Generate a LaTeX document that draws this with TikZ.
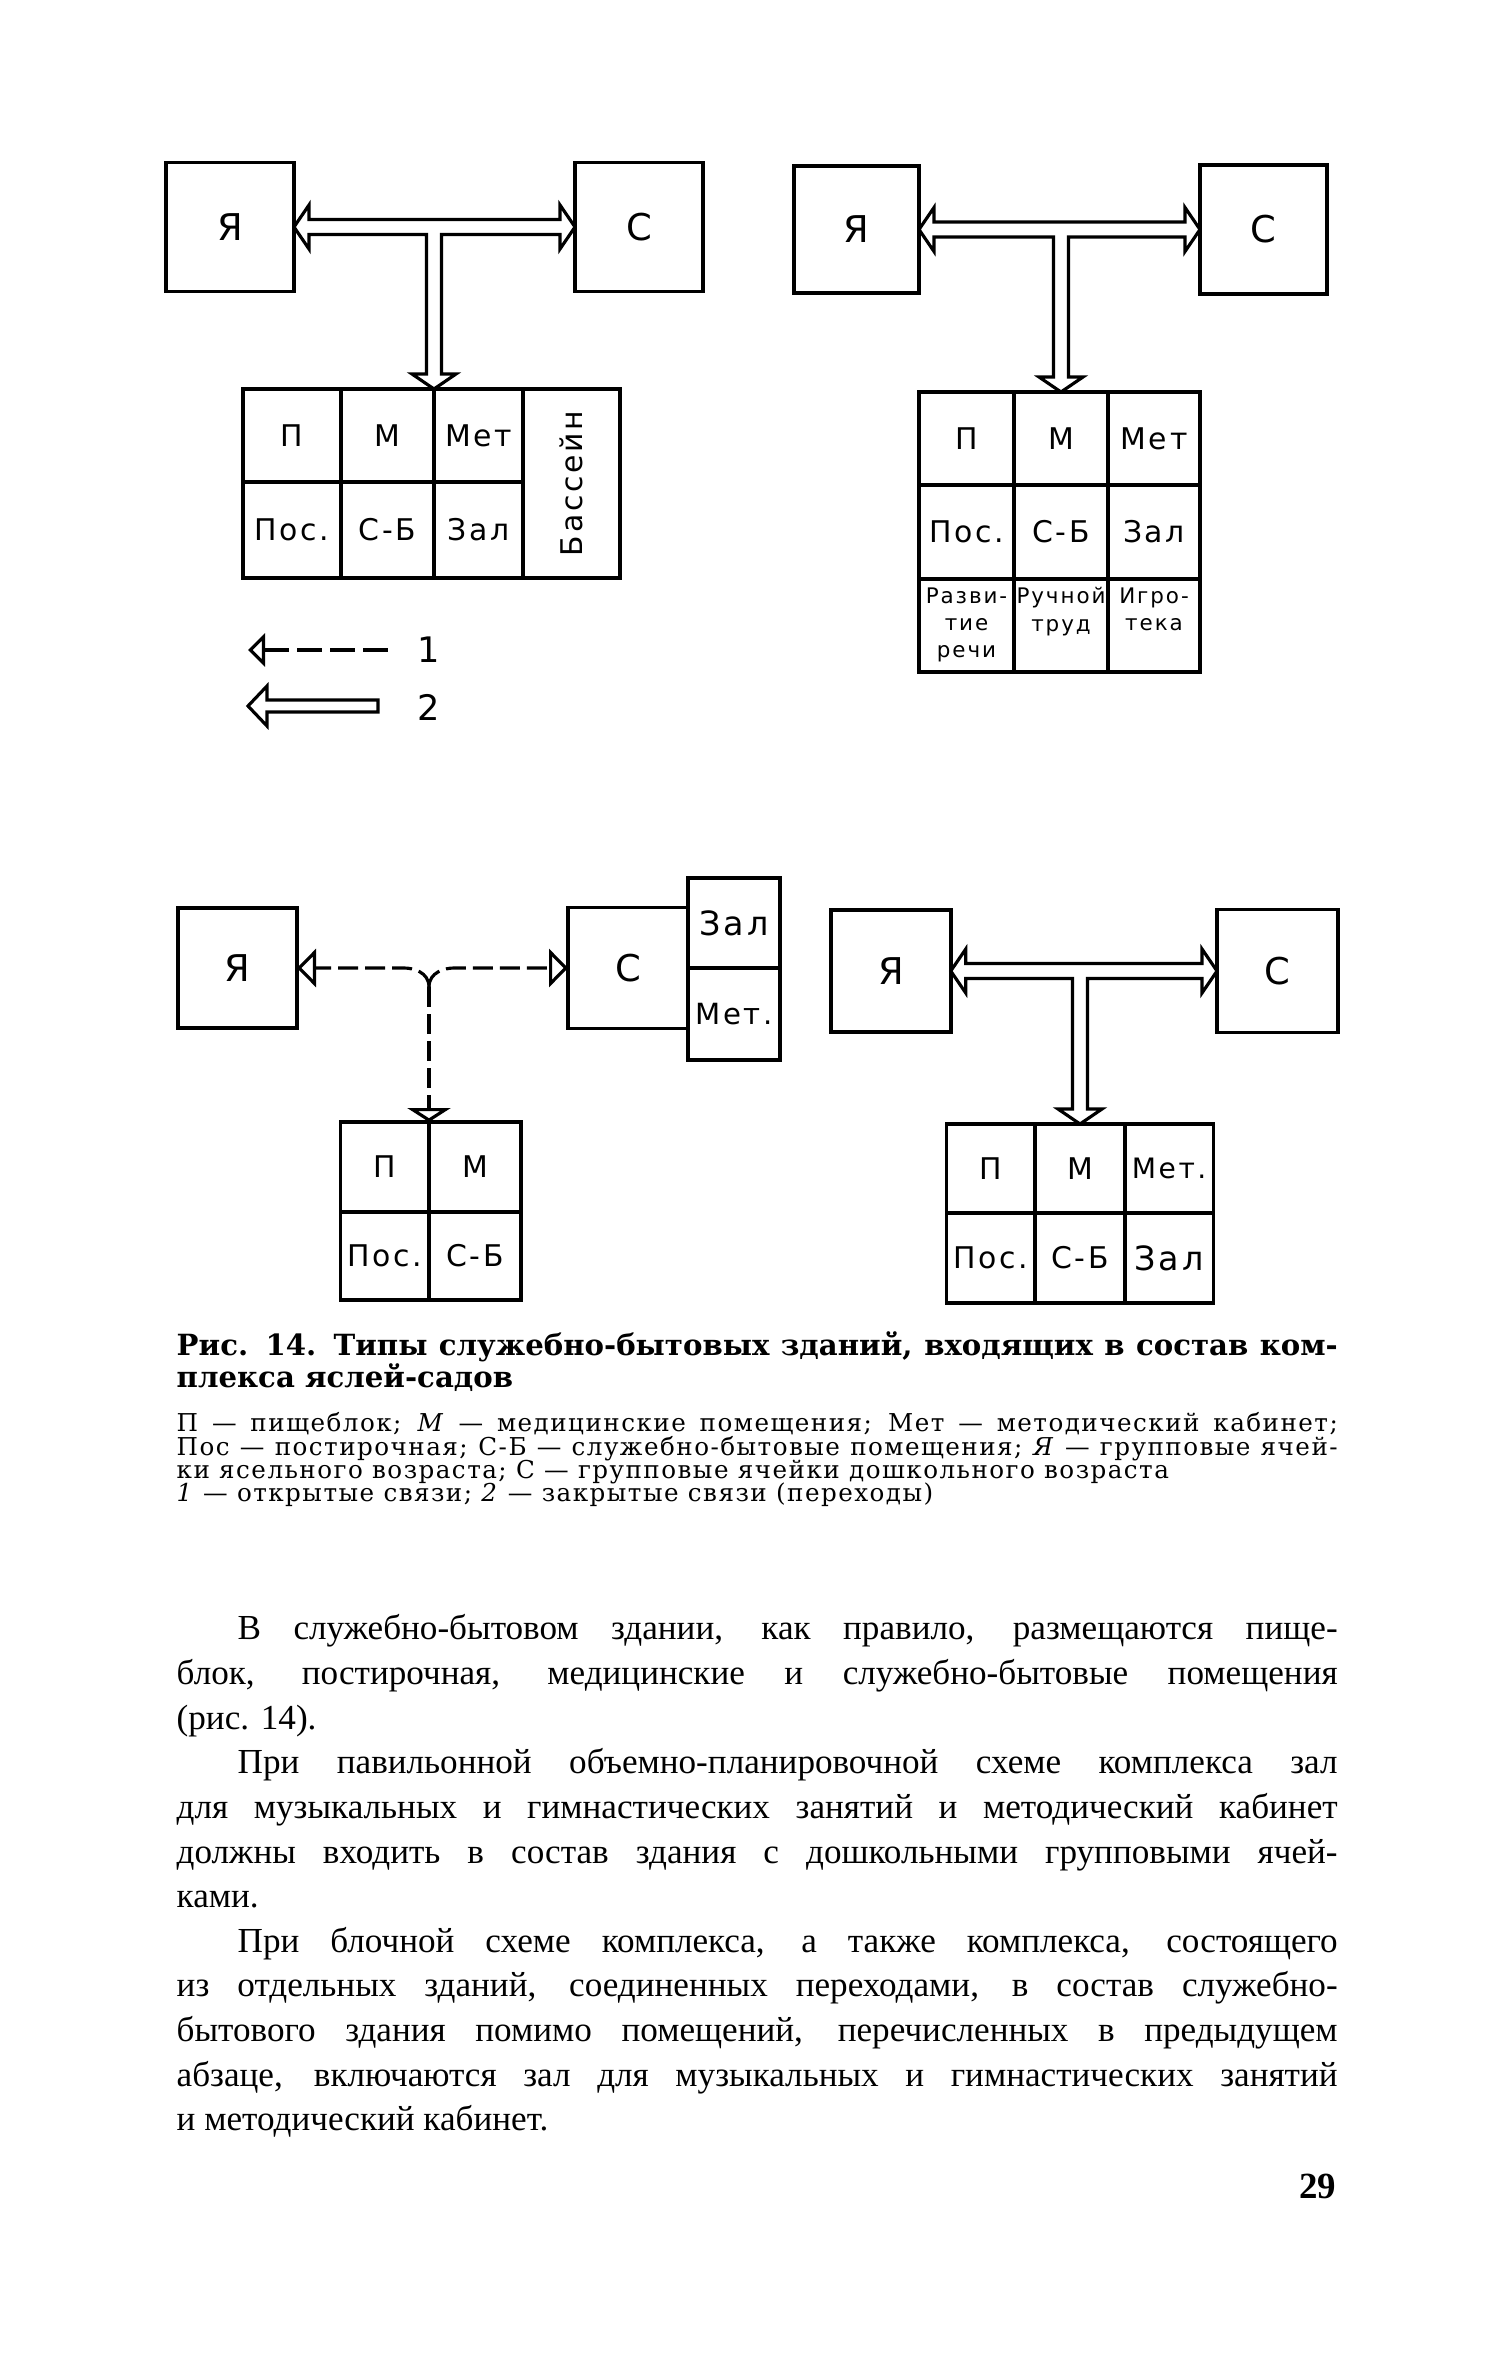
\documentclass[tikz,border=0pt]{standalone}
\usepackage{fontspec}
\setmainfont{Liberation Serif}
\newfontfamily\diafont[LetterSpace=9]{DejaVu Sans}
\newfontfamily\capfont{DejaVu Serif}
\newfontfamily\legfont[LetterSpace=6]{DejaVu Serif}
\usetikzlibrary{positioning, arrows.meta, calc}

\tikzset{
  room/.style={draw, line width=1.1pt, inner sep=0pt, outer sep=0pt,
    font=\diafont\fontsize{10.5}{12}\selectfont},
  cell/.style={draw, line width=1pt, inner sep=0pt, outer sep=0pt,
    font=\diafont\fontsize{8.5}{10}\selectfont},
  small/.style={inner sep=0pt, align=center,
    font=\diafont\fontsize{6.1}{7.7}\selectfont},
  closedlink/.style={draw, line width=0.9pt, line join=miter},
  openlink/.style={line width=0.9pt, dash pattern=on 2mm off 0.7mm,
    -{Triangle[open, length=1.9mm, width=3.8mm]}},
  caption/.style={inner sep=0pt, text width=116.1mm, align=justify,
    font=\capfont\bfseries\fontsize{8.3}{9}\selectfont},
  legend/.style={inner sep=0pt, text width=116.1mm, align=justify,
    font=\legfont\fontsize{7}{6.75}\selectfont},
  body/.style={inner sep=0pt, text width=116.1mm, align=justify,
    font=\fontsize{10}{12.7}\selectfont},
}

% closed T-link: left room, right room, point on the table
\newcommand{\tlink}[3]{%
  \draw[closedlink] (#1.east) -- ++(15,-22) -- ++(0,14.5)
    -- ($(#2.west)+(-15,-7.5)$) -- ++(0,-14.5) -- (#2.west)
    -- ++(-15,22) -- ++(0,-14.5) -- ($(#2.west -| #3)+(7.5,7.5)$)
    -- ($(#3)+(7.5,-15)$) -- ++(14.5,0) -- (#3) -- ++(-22,-15) -- ++(14.5,0)
    -- ($(#2.west -| #3)+(-7.5,7.5)$) -- ($(#1.east)+(15,7.5)$)
    -- ++(0,14.5) -- cycle;}

\begin{document}
\begin{tikzpicture}[x=0.1mm, y=-0.1mm]
  \useasboundingbox (0,0) rectangle (1501,2362);
  \fill[white] (0,0) rectangle (1501,2362);

  % top left
  \node[room, minimum width=12.8mm, minimum height=12.9mm] (tlY) at (230,227) {Я};
  \node[room, minimum width=12.8mm, minimum height=12.9mm] (tlS) at (639,227) {С};
  \node[cell, anchor=north west, minimum width=9.8mm, minimum height=9.3mm] (tlP) at (243,389) {П};
  \node[cell, right=0pt of tlP, minimum width=9.3mm, minimum height=9.3mm] (tlM) {М};
  \node[cell, right=0pt of tlM, minimum width=8.9mm, minimum height=9.3mm] (tlMet) {Мет};
  \node[cell, below=0pt of tlP, minimum width=9.8mm, minimum height=9.6mm] (tlPos) {Пос.};
  \node[cell, right=0pt of tlPos, minimum width=9.3mm, minimum height=9.6mm] (tlSB) {С-Б};
  \node[cell, right=0pt of tlSB, minimum width=8.9mm, minimum height=9.6mm] (tlZal) {Зал};
  \node[cell, anchor=north west, minimum width=9.7mm, minimum height=18.9mm] (tlBas) at (tlMet.north east) {};
  \node[rotate=90, inner sep=0pt, font=\diafont\fontsize{8.5}{10}\selectfont] (tlBasT) at (tlBas.center) {Бассейн};
  \tlink{tlY}{tlS}{tlM.north east}

  % legend
  \coordinate (lg1a) at (248,650);
  \coordinate (lg1b) at (388,650);
  \draw[line width=0.9pt, dash pattern=on 2.5mm off 0.8mm,
    {Triangle[open, length=1.7mm, width=3.3mm]}-] (lg1a) -- (lg1b);
  \node[font=\diafont\fontsize{10}{12}\selectfont] (lgone) at (429,650) {1};
  \coordinate (lg2a) at (248,706);
  \draw[closedlink] (lg2a) -- ++(19,-20) -- ++(0,14) -- ++(111,0) -- ++(0,12)
    -- ++(-111,0) -- ++(0,14) -- cycle;
  \node[font=\diafont\fontsize{10}{12}\selectfont] (lgtwo) at (429,707) {2};

  % top right
  \node[room, minimum width=12.5mm, minimum height=12.7mm] (trY) at (856.5,229.5) {Я};
  \node[room, minimum width=12.7mm, minimum height=12.9mm] (trS) at (1263.5,229.5) {С};
  \node[cell, anchor=north west, minimum width=9.5mm, minimum height=9.3mm] (trP) at (919,392) {П};
  \node[cell, right=0pt of trP, minimum width=9.4mm, minimum height=9.3mm] (trM) {М};
  \node[cell, right=0pt of trM, minimum width=9.2mm, minimum height=9.3mm] (trMet) {Мет};
  \node[cell, below=0pt of trP, minimum width=9.5mm, minimum height=9.4mm] (trPos) {Пос.};
  \node[cell, right=0pt of trPos, minimum width=9.4mm, minimum height=9.4mm] (trSB) {С-Б};
  \node[cell, right=0pt of trSB, minimum width=9.2mm, minimum height=9.4mm] (trZal) {Зал};
  \node[cell, below=0pt of trPos, minimum width=9.5mm, minimum height=9.3mm] (trRech) {};
  \node[cell, right=0pt of trRech, minimum width=9.4mm, minimum height=9.3mm] (trTrud) {};
  \node[cell, right=0pt of trTrud, minimum width=9.2mm, minimum height=9.3mm] (trIgr) {};
  \node[small, anchor=north] (trRechT) at ($(trRech.north)+(0,8)$) {Разви-\\тие\\речи};
  \node[small, anchor=north] (trTrudT) at ($(trTrud.north)+(0,8)$) {Ручной\\труд};
  \node[small, anchor=north] (trIgrT) at ($(trIgr.north)+(0,8)$) {Игро-\\тека};
  \tlink{trY}{trS}{trM.north}

  % bottom left
  \node[room, minimum width=11.9mm, minimum height=12mm] (blY) at (237.5,968) {Я};
  \node[room, minimum width=12mm, minimum height=12.1mm] (blS) at (628,968) {С};
  \node[cell, anchor=south west, minimum width=9.2mm, minimum height=9mm,
    font=\diafont\fontsize{9.5}{11}\selectfont] (blZal) at (blS.east) {Зал};
  \node[cell, below=0pt of blZal, minimum width=9.2mm, minimum height=9.2mm,
    font=\diafont\fontsize{8.3}{10}\selectfont] (blMet) {Мет.};
  \node[cell, anchor=north west, minimum width=8.85mm, minimum height=9mm] (blP) at (340.5,1122) {П};
  \node[cell, right=0pt of blP, minimum width=9.2mm, minimum height=9mm] (blM) {М};
  \node[cell, below=0pt of blP, minimum width=8.85mm, minimum height=8.8mm] (blPos) {Пос.};
  \node[cell, right=0pt of blPos, minimum width=9.2mm, minimum height=8.8mm] (blSB) {С-Б};
  \coordinate (blj) at ($(blM.north west)+(0,-135)$);
  \draw[openlink] (blj) .. controls +(0,-15) and +(9,0) .. ++(-25,-19) -- (blY.east);
  \draw[openlink] (blj) .. controls +(0,-15) and +(-9,0) .. ++(25,-19) -- (blS.west);
  \draw[openlink, -{Triangle[open, length=1.4mm, width=4.3mm]}] (blj) -- (blM.north west);

  % bottom right
  \node[room, minimum width=11.95mm, minimum height=12.2mm] (brY) at (891,971) {Я};
  \node[room, minimum width=12.1mm, minimum height=12.3mm] (brS) at (1277.5,971) {С};
  \node[cell, anchor=north west, minimum width=8.83mm, minimum height=8.9mm] (brP) at (946.7,1124) {П};
  \node[cell, right=0pt of brP, minimum width=9mm, minimum height=8.9mm] (brM) {М};
  \node[cell, right=0pt of brM, minimum width=8.83mm, minimum height=8.9mm,
    font=\diafont\fontsize{8}{10}\selectfont] (brMet) {Мет.};
  \node[cell, below=0pt of brP, minimum width=8.83mm, minimum height=9mm] (brPos) {Пос.};
  \node[cell, right=0pt of brPos, minimum width=9mm, minimum height=9mm] (brSB) {С-Б};
  \node[cell, right=0pt of brSB, minimum width=8.83mm, minimum height=9mm,
    font=\diafont\fontsize{9.5}{11}\selectfont] (brZal) {Зал};
  \tlink{brY}{brS}{brM.north}

  % caption and text
  \node[caption, anchor=north west] (figcap) at (176,1331) {\hyphenpenalty=10000
    Рис. 14. Типы служебно-бытовых зданий, входящих в состав ком-\linebreak
    плекса яслей-садов};
  \node[legend, anchor=north west] (figleg) at (176,1412) {\baselineskip=6.6pt
    \lineskiplimit=-\maxdimen \lineskip=0pt
    \hyphenpenalty=10000 \exhyphenpenalty=10000
    П — пищеблок; \textit{М} — медицинские помещения; Мет — методический кабинет;\linebreak
    Пос — постирочная; С-Б — служебно-бытовые помещения; \textit{Я} — групповые ячей-\linebreak
    ки ясельного возраста; С — групповые ячейки дошкольного возраста\hfill\break
    \textit{1} — открытые связи; \textit{2} — закрытые связи (переходы)\par};
  \node[body, anchor=north west] (bodytext) at (176,1614) {\parindent=0pt
    \hyphenpenalty=10000 \exhyphenpenalty=10000
    \hspace*{6.1mm}В служебно-бытовом здании, как правило, размещаются пище-\linebreak
    блок, постирочная, медицинские и служебно-бытовые помещения\linebreak
    (рис. 14).\par
    \hspace*{6.1mm}При павильонной объемно-планировочной схеме комплекса зал\linebreak
    для музыкальных и гимнастических занятий и методический кабинет\linebreak
    должны входить в состав здания с дошкольными групповыми ячей-\linebreak
    ками.\par
    \hspace*{6.1mm}При блочной схеме комплекса, а также комплекса, состоящего\linebreak
    из отдельных зданий, соединенных переходами, в состав служебно-\linebreak
    бытового здания помимо помещений, перечисленных в предыдущем\linebreak
    абзаце, включаются зал для музыкальных и гимнастических занятий\linebreak
    и методический кабинет.};
  \node[font=\bfseries\fontsize{10.5}{12}\selectfont, anchor=base east, inner sep=0pt]
    (pageno) at (1337,2198) {29};
\end{tikzpicture}
\end{document}
